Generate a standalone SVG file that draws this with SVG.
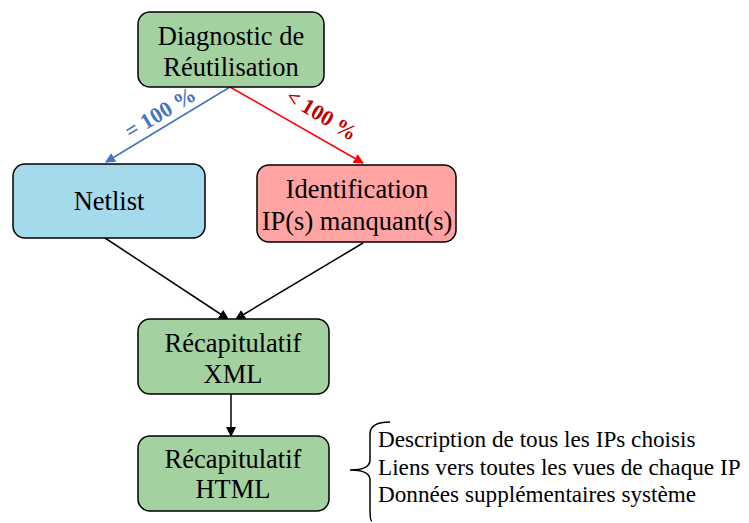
<svg xmlns="http://www.w3.org/2000/svg" width="749" height="523" viewBox="0 0 749 523">
<defs>
<style>
.box{stroke:#000;stroke-width:1.5}
.t{font-family:"Liberation Serif","Times New Roman",serif;font-size:26.5px;fill:#000;text-anchor:middle}
.s{font-family:"Liberation Serif","Times New Roman",serif;font-size:23.2px;fill:#000}
.lbl{font-family:"Liberation Serif","Times New Roman",serif;font-size:22px;font-weight:bold;text-anchor:middle}
</style>
<marker id="ab" viewBox="0 0 10 10" refX="9" refY="5" markerWidth="10" markerHeight="10" markerUnits="userSpaceOnUse" orient="auto"><path d="M0,0 L10,5 L0,10 z" fill="#4472C4"/></marker>
<marker id="ar" viewBox="0 0 10 10" refX="9" refY="5" markerWidth="10" markerHeight="10" markerUnits="userSpaceOnUse" orient="auto"><path d="M0,0 L10,5 L0,10 z" fill="#FF0000"/></marker>
<marker id="ak" viewBox="0 0 10 10" refX="9" refY="5" markerWidth="10" markerHeight="10" markerUnits="userSpaceOnUse" orient="auto"><path d="M0,0 L10,5 L0,10 z" fill="#000"/></marker>
</defs>
<rect width="749" height="523" fill="#fff"/>
<g id="connectors" fill="none" stroke-width="1.5">
<line x1="230" y1="87" x2="106" y2="162" stroke="#4472C4" marker-end="url(#ab)"/>
<line x1="230" y1="87" x2="363" y2="163" stroke="#FF0000" marker-end="url(#ar)"/>
<line x1="105" y1="238" x2="228" y2="319" stroke="#000" marker-end="url(#ak)"/>
<line x1="363" y1="243" x2="236" y2="319" stroke="#000" marker-end="url(#ak)"/>
<line x1="231" y1="394" x2="231" y2="436" stroke="#000" marker-end="url(#ak)"/>
<text class="lbl" fill="#4472C4" transform="translate(164,119) rotate(-31)">= 100 %</text>
<text class="lbl" fill="#C00000" transform="translate(318,121) rotate(31)">&lt; 100 %</text>
</g>
<g id="diag">
<rect class="box" x="138" y="12" width="186" height="75" rx="12" fill="#A3D1A0"/>
<text class="t" x="231" y="45">Diagnostic de</text>
<text class="t" x="231" y="76">Réutilisation</text>
</g>
<g id="netlist">
<rect class="box" x="13" y="164" width="192" height="74" rx="12" fill="#A5D9EC"/>
<text class="t" x="109" y="210">Netlist</text>
</g>
<g id="ident">
<rect class="box" x="257" y="165" width="199" height="77" rx="12" fill="#FFA3A3"/>
<text class="t" x="357" y="198">Identification</text>
<text class="t" x="357" y="230">IP(s) manquant(s)</text>
</g>
<g id="recapxml">
<rect class="box" x="138" y="319" width="191" height="75" rx="12" fill="#A3D1A0"/>
<text class="t" x="233" y="352">Récapitulatif</text>
<text class="t" x="233" y="383">XML</text>
</g>
<g id="recaphtml">
<rect class="box" x="138" y="436" width="191" height="75" rx="12" fill="#A3D1A0"/>
<text class="t" x="233" y="468">Récapitulatif</text>
<text class="t" x="233" y="498">HTML</text>
</g>
<g id="details">
<path d="M390,422 Q370,422 370,434 L370,460 Q370,470 350,470 Q370,470 370,480 L370,510 Q370,521 372,521" fill="none" stroke="#000" stroke-width="1.5"/>
<text class="s" x="378" y="447">Description de tous les IPs choisis</text>
<text class="s" x="378" y="475">Liens vers toutes les vues de chaque IP</text>
<text class="s" x="378" y="502">Données supplémentaires système</text>
</g>
</svg>
